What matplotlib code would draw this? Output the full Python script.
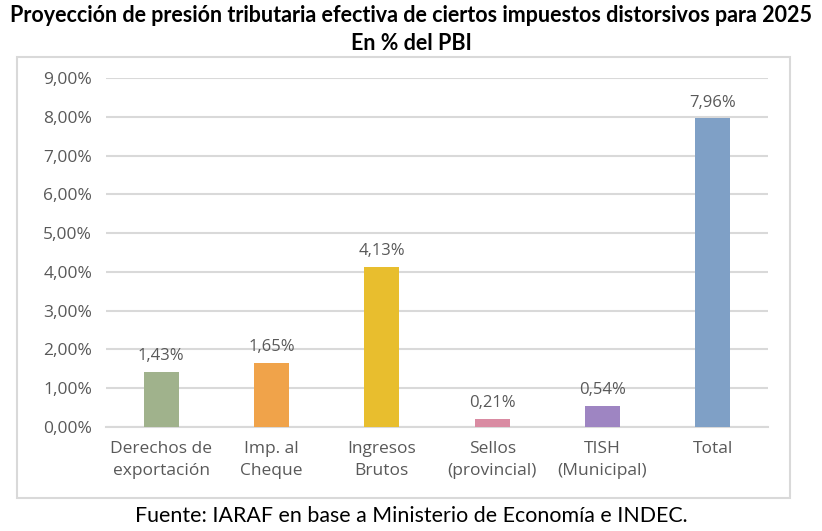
import matplotlib.pyplot as plt
from matplotlib.patches import Rectangle
from matplotlib.ticker import FuncFormatter

# data
categorias = ["Derechos de\nexportación", "Imp. al\nCheque", "Ingresos\nBrutos",
              "Sellos\n(provincial)", "TISH\n(Municipal)", "Total"]
valores = [1.43, 1.65, 4.13, 0.21, 0.54, 7.96]
colores = ["#A0B28C", "#F0A34A", "#E8BE2E", "#D98BA2", "#9E85C2", "#7FA0C6"]

gris = "#595959"
plt.rcParams['font.family'] = ['Open Sans', 'DejaVu Sans']

fig = plt.figure(figsize=(8.22, 5.31), dpi=100)

# chart box
fig.patches.append(Rectangle((17 / 822, 1 - 498 / 531), 773 / 822, 441 / 531,
                             transform=fig.transFigure, fill=False,
                             edgecolor="#D9D9D9", linewidth=1.5))

ax = fig.add_axes([106 / 822, 1 - 427 / 531, 662 / 822, 349 / 531])
x = range(len(categorias))
bars = ax.bar(x, valores, width=0.32, color=colores, zorder=3)

for b, v in zip(bars, valores):
    ax.text(b.get_x() + b.get_width() / 2, v + 0.2, f"{v:.2f}%".replace(".", ","),
            ha="center", va="bottom", fontsize=12, color=gris)

ax.set_xlim(-0.5, 5.5)
ax.set_ylim(0, 9)
ax.set_yticks(range(10))
ax.yaxis.set_major_formatter(FuncFormatter(lambda v, p: f"{v:.2f}%".replace(".", ",")))
ax.set_xticks(list(x))
ax.set_xticklabels(categorias, linespacing=1.55)
ax.tick_params(axis="both", length=0, labelsize=12.5, labelcolor=gris)
ax.tick_params(axis="x", pad=10)
ax.tick_params(axis="y", pad=10)
ax.grid(axis="y", color="#D9D9D9", linewidth=1.5, zorder=0)
for s in ["top", "right", "left"]:
    ax.spines[s].set_visible(False)
ax.spines["bottom"].set_color("#D9D9D9")
ax.spines["bottom"].set_linewidth(1.5)

fig.text(0.5, 1 - 15 / 531, "Proyección de presión tributaria efectiva de ciertos impuestos distorsivos para 2025",
         ha="center", va="center", fontsize=15.5, fontweight="bold", family=["Lato", "DejaVu Sans"])
fig.text(0.5, 1 - 43 / 531, "En % del PBI",
         ha="center", va="center", fontsize=15.5, fontweight="bold", family=["Lato", "DejaVu Sans"])
fig.text(0.5, 1 - 516 / 531, "Fuente: IARAF en base a Ministerio de Economía e INDEC.",
         ha="center", va="center", fontsize=15.4, color="black", family=["Lato", "DejaVu Sans"])

fig.savefig("out.png", dpi=100)
